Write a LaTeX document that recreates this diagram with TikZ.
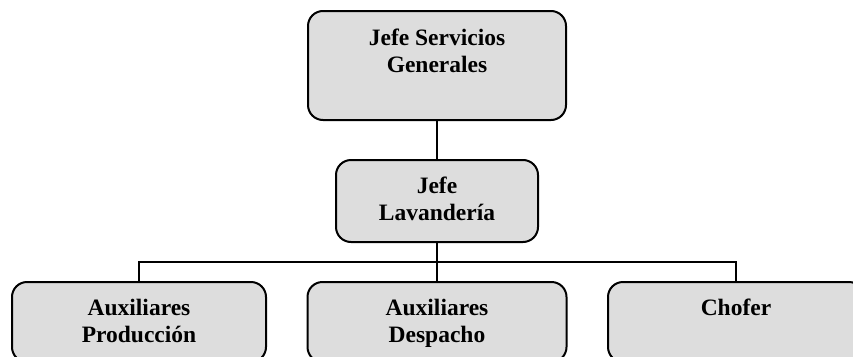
\documentclass[tikz,border=0pt]{standalone}
\usepackage{fontspec}
\setmainfont{Liberation Serif}
\definecolor{boxfill}{RGB}{221,221,221}
\begin{document}
\begin{tikzpicture}[x=1pt,y=-1pt,
  orgbox/.style={draw=black,line width=2pt,fill=boxfill,rounded corners=15pt,inner sep=0pt},
  orgtext/.style={font=\bfseries\fontsize{23.5}{27}\selectfont,align=center,inner sep=0pt,anchor=north},
  conn/.style={line width=2.2pt,draw=black}]
\useasboundingbox (0,0) rectangle (853,356);
\node[orgbox,minimum width=258pt,minimum height=109pt] (top) at (437,65.5) {};
\node[orgbox,minimum width=202pt,minimum height=82pt] (mid) at (437,201) {};
\node[orgbox,minimum width=254pt,minimum height=80pt] (b1) at (139,322) {};
\node[orgbox,minimum width=259pt,minimum height=80pt] (b2) at (437,322) {};
\node[orgbox,minimum width=256pt,minimum height=80pt] (b3) at (736,322) {};
\node[orgtext] (ttop) at (437,29) {Jefe Servicios\\Generales};
\node[orgtext] (tmid) at (437,177) {Jefe\\Lavandería};
\node[orgtext] (tb1) at (139,299) {Auxiliares\\Producción};
\node[orgtext] (tb2) at (437,299) {Auxiliares\\Despacho};
\node[orgtext] (tb3) at (736,299) {Chofer};
\coordinate (bus) at (437,262);
\draw[conn] (top.south) -- (mid.north);
\draw[conn] (mid.south) -- (b2.north);
\draw[conn] (b1.north) |- (bus) -| (b3.north);
\end{tikzpicture}
\end{document}
